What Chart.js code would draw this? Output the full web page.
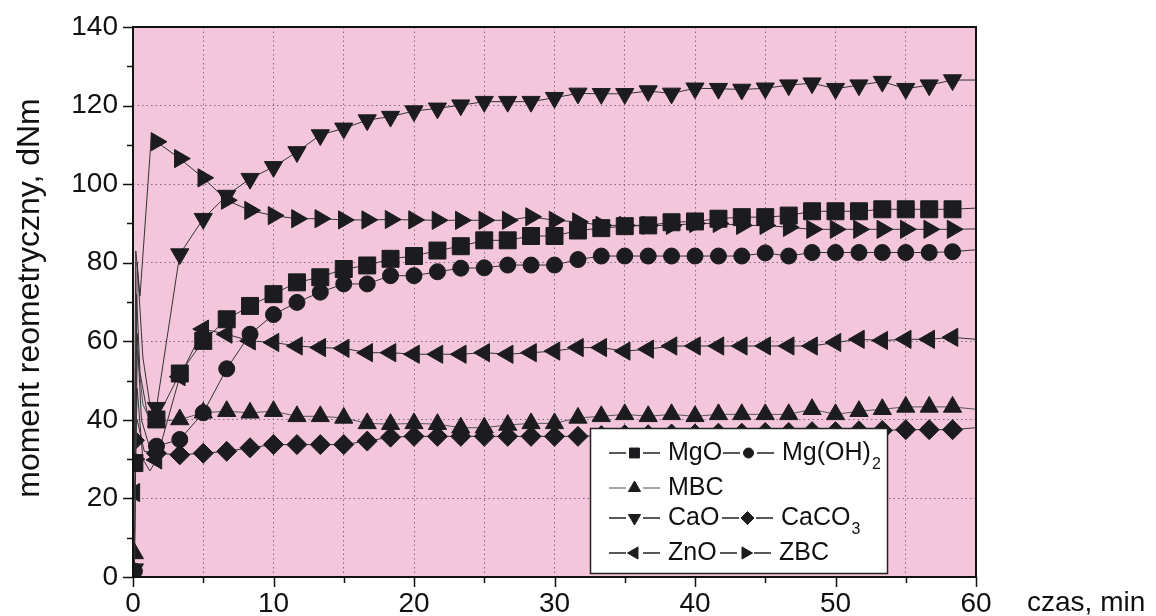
<!DOCTYPE html>
<html>
<head>
<meta charset="utf-8">
<script src="https://cdn.jsdelivr.net/npm/chart.js@4.4.1/dist/chart.umd.min.js"></script>
<style>
html, body { margin: 0; padding: 0; background: #fff; }
</style>
</head>
<body>
<canvas id="canvas" width="1156" height="616"></canvas>
<script>
const FONT = "'Liberation Sans', Arial, Helvetica, sans-serif";

// marker times, min (first one is the start of the run)
const markTimes = [0.1, 1.67, 3.33, 5, 6.67, 8.33, 10, 11.67, 13.33, 15, 16.67, 18.33,
	20, 21.67, 23.33, 25, 26.67, 28.33, 30, 31.67, 33.33, 35, 36.67, 38.33,
	40, 41.67, 43.33, 45, 46.67, 48.33, 50, 51.67, 53.33, 55, 56.67, 58.33];

const mgo = [29, 40.1, 51.8, 60.1, 65.6, 69.0, 72.0, 75.0, 76.3, 78.4, 79.3, 81.0,
	81.7, 83.1, 84.2, 85.7, 85.7, 86.8, 86.8, 88.2, 88.8, 89.3, 89.5, 90.3,
	90.5, 91.2, 91.6, 91.6, 92.0, 93.1, 93.1, 93.1, 93.6, 93.6, 93.6, 93.6];
const mgoh2 = [1.5, 33.3, 35.0, 41.8, 53.0, 61.8, 66.8, 69.9, 72.5, 74.6, 74.6, 76.7,
	76.7, 77.7, 78.6, 78.7, 79.4, 79.4, 79.4, 80.8, 81.7, 81.7, 81.7, 81.7,
	81.7, 81.7, 81.7, 82.5, 81.7, 82.6, 82.6, 82.6, 82.6, 82.6, 82.6, 82.8];
const mbc = [6, 39.5, 40.1, 41.8, 42.2, 41.8, 42.2, 40.9, 40.9, 40.5, 39.1, 38.9,
	39.1, 38.9, 38.0, 38.0, 38.7, 39.1, 39.1, 40.5, 40.9, 41.4, 40.9, 41.4,
	40.9, 41.4, 41.4, 41.4, 41.4, 42.7, 41.4, 42.2, 42.7, 43.3, 43.3, 43.3];
const cao = [2, 43.1, 82.2, 91.2, 97.1, 101.4, 104.4, 108.2, 112.5, 114.2, 116.3, 117.2,
	118.6, 119.3, 120.1, 121.0, 121.0, 121.0, 122.0, 123.1, 123.0, 123.0, 123.7, 123.1,
	124.4, 124.3, 124.1, 124.4, 125.2, 125.7, 124.3, 125.2, 126.1, 124.3, 125.2, 126.5];
const caco3 = [34.8, 31.5, 31.1, 31.5, 32.0, 32.9, 33.7, 33.7, 33.7, 33.7, 34.6, 35.6,
	35.8, 35.8, 35.8, 35.8, 35.8, 35.8, 35.8, 35.8, 36.0, 36.2, 36.2, 36.4,
	36.4, 36.6, 36.6, 36.8, 36.8, 37.0, 37.0, 37.2, 37.3, 37.5, 37.5, 37.5];
const zno = [21.5, 29.8, 51.0, 63.1, 61.8, 60.1, 59.7, 58.8, 58.4, 58.2, 57.1, 57.1,
	56.7, 56.7, 56.7, 57.1, 56.7, 57.1, 57.5, 58.4, 58.4, 57.5, 58.0, 58.8,
	58.8, 58.8, 58.8, 58.8, 58.8, 58.8, 59.7, 60.5, 60.2, 60.5, 60.5, 61.0];
const zbc = [30, 110.8, 106.5, 101.6, 95.9, 93.3, 92.0, 91.2, 91.2, 90.9, 90.9, 91.0,
	90.9, 90.8, 90.8, 90.8, 90.8, 91.7, 90.8, 90.4, 89.5, 89.5, 89.5, 89.5,
	90.0, 90.0, 89.5, 89.5, 89.0, 88.5, 88.5, 88.5, 88.5, 88.5, 88.5, 88.5];

// first minutes of the curves (no markers there)
const mgoEarlyT = [0.25, 0.5, 1.0],   mgoEarlyY = [72, 52, 42];
const mgoh2EarlyT = [0.3, 0.6, 1.1],  mgoh2EarlyY = [62, 40, 34];
const mbcEarlyT = [0.3, 0.7, 1.2],    mbcEarlyY = [58, 44, 40];
const caoEarlyT = [0.3, 0.7, 1.2],    caoEarlyY = [80, 56, 44];
const caco3EarlyT = [0.3, 0.8],       caco3EarlyY = [40, 32];
const znoEarlyT = [0.3, 0.7, 1.2],    znoEarlyY = [48, 30, 27];
const zbcEarlyT = [0.2, 0.5, 1.3],    zbcEarlyY = [83, 71.5, 112];

// value at 60 min
const endY = { mgo: 93.9, mgoh2: 83.3, mbc: 42.7, cao: 126.5, caco3: 38.0, zno: 60.5, zbc: 88.6 };

const MARK = '#1c1c1e';

function series(marks, earlyT, earlyY, last) {
	var pts = [{ x: markTimes[0], y: marks[0], m: true }];
	for (var i = 0; i < earlyT.length; i++) pts.push({ x: earlyT[i], y: earlyY[i], m: false });
	for (var k = 1; k < marks.length; k++) pts.push({ x: markTimes[k], y: marks[k], m: true });
	pts.push({ x: 60, y: last, m: false });
	return pts;
}

function ds(label, data, style, rot, r, lineColor) {
	return {
		label: label,
		data: data,
		borderColor: lineColor || '#333',
		borderWidth: 1,
		tension: 0,
		pointStyle: style,
		rotation: rot,
		pointRotation: rot,
		pointRadius: function (ctx) { return ctx.raw && ctx.raw.m ? r : 0; },
		pointBackgroundColor: MARK,
		pointBorderColor: MARK,
		pointBorderWidth: 1
	};
}

const datasets = [
	ds('MgO', series(mgo, mgoEarlyT, mgoEarlyY, endY.mgo), 'rect', 0, 12),
	ds('Mg(OH)2', series(mgoh2, mgoh2EarlyT, mgoh2EarlyY, endY.mgoh2), 'circle', 0, 8),
	ds('MBC', series(mbc, mbcEarlyT, mbcEarlyY, endY.mbc), 'triangle', 0, 10.5, '#555'),
	ds('CaO', series(cao, caoEarlyT, caoEarlyY, endY.cao), 'triangle', 180, 10.5),
	ds('CaCO3', series(caco3, caco3EarlyT, caco3EarlyY, endY.caco3), 'rectRot', 0, 10),
	ds('ZnO', series(zno, znoEarlyT, znoEarlyY, endY.zno), 'triangle', 270, 10.5),
	ds('ZBC', series(zbc, zbcEarlyT, zbcEarlyY, endY.zbc), 'triangle', 90, 10.5)
];

// legend rows: [label, subscript, style, rotation, x start, y]
const legendItems = [
	['MgO', '', 'rect', 0, 609, 453],
	['Mg(OH)', '2', 'circle', 0, 723, 453],
	['MBC', '', 'triangle', 0, 609, 488],
	['CaO', '', 'triangle', 180, 609, 518],
	['CaCO', '3', 'rectRot', 0, 722, 518],
	['ZnO', '', 'triangle', 270, 609, 553],
	['ZBC', '', 'triangle', 90, 720, 553]
];
const legendRadius = { rect: 7, circle: 5, triangle: 7, rectRot: 6.5 };

const frame = {
	id: 'frame',
	beforeDraw: function (chart) {
		var a = chart.chartArea, ctx = chart.ctx;
		ctx.save();
		ctx.fillStyle = '#f3c6dc';
		ctx.fillRect(a.left, a.top, a.right - a.left, a.bottom - a.top);
		ctx.restore();
	},
	afterDraw: function (chart) {
		var a = chart.chartArea, ctx = chart.ctx;
		var xs = chart.scales.x, ys = chart.scales.y;
		ctx.save();
		ctx.strokeStyle = '#111';
		ctx.lineWidth = 2;
		ctx.strokeRect(a.left, a.top, a.right - a.left, a.bottom - a.top);
		ctx.lineWidth = 1.5;
		ctx.beginPath();
		for (var v = 0; v <= 60; v += 5) {
			var px = Math.round(xs.getPixelForValue(v)) + 0.5;
			ctx.moveTo(px, a.bottom);
			ctx.lineTo(px, a.bottom + (v % 10 === 0 ? 10 : 6));
		}
		for (var w = 0; w <= 140; w += 10) {
			var py = Math.round(ys.getPixelForValue(w)) + 0.5;
			ctx.moveTo(a.left, py);
			ctx.lineTo(a.left - (w % 20 === 0 ? 10 : 6), py);
		}
		ctx.stroke();

		// axis titles
		ctx.fillStyle = '#111';
		ctx.font = '28px ' + FONT;
		ctx.textBaseline = 'middle';
		ctx.textAlign = 'left';
		ctx.fillText('czas, min', 1027, 603);
		ctx.translate(30, 298);
		ctx.rotate(-Math.PI / 2);
		ctx.textAlign = 'center';
		ctx.font = '32px ' + FONT;
		ctx.fillText('moment reometryczny, dNm', 0, 0);
		ctx.restore();

		// legend box
		ctx.save();
		ctx.fillStyle = '#fff';
		ctx.fillRect(590, 428, 297, 145);
		ctx.strokeStyle = '#222';
		ctx.lineWidth = 1.5;
		ctx.strokeRect(590.5, 428.5, 297, 145);
		legendItems.forEach(function (it) {
			var x0 = it[4], y = it[5];
			ctx.strokeStyle = it[0] === 'MBC' ? '#888' : '#222';
			ctx.lineWidth = 1.5;
			ctx.beginPath();
			ctx.moveTo(x0, y); ctx.lineTo(x0 + 17, y);
			ctx.moveTo(x0 + 34, y); ctx.lineTo(x0 + 51, y);
			ctx.stroke();
			ctx.fillStyle = MARK;
			ctx.strokeStyle = MARK;
			ctx.lineWidth = 1;
			Chart.helpers.drawPoint(ctx, {
				pointStyle: it[2], rotation: it[3], radius: legendRadius[it[2]], borderWidth: 1
			}, x0 + 25.5, y);
			ctx.fillStyle = '#111';
			ctx.font = '25px ' + FONT;
			ctx.textAlign = 'left';
			ctx.textBaseline = 'middle';
			var tx = x0 + 59;
			ctx.fillText(it[0], tx, y);
			if (it[1]) {
				var wdt = ctx.measureText(it[0]).width;
				ctx.font = '16px ' + FONT;
				ctx.fillText(it[1], tx + wdt + 1, y + 12);
			}
		});
		ctx.restore();
	}
};

new Chart(document.getElementById('canvas').getContext('2d'), {
	type: 'line',
	data: { datasets: datasets },
	options: {
		responsive: false,
		animation: false,
		events: [],
		layout: { padding: { left: 0, right: 180, top: 27, bottom: 0 } },
		plugins: { legend: { display: false }, tooltip: { enabled: false } },
		scales: {
			x: {
				type: 'linear', min: 0, max: 60,
				afterFit: function (s) { s.height = 39; s.paddingLeft = 0; s.paddingRight = 0; },
				ticks: {
					stepSize: 5, autoSkip: false, maxRotation: 0, padding: 10, color: '#111',
					font: { family: FONT, size: 28 },
					callback: function (v) { return v % 10 === 0 ? v : ''; }
				},
				grid: {
					drawTicks: false, lineWidth: 1,
					color: function (c) { return c.tick && c.tick.value > 0 && c.tick.value < 60 ? '#7d6a80' : 'rgba(0,0,0,0)'; }
				},
				border: { display: false, dash: [1.5, 3] }
			},
			y: {
				min: 0, max: 140,
				afterFit: function (s) { s.width = 133; s.paddingTop = 0; s.paddingBottom = 0; },
				ticks: {
					stepSize: 10, autoSkip: false, padding: 15, color: '#111',
					font: { family: FONT, size: 28 },
					callback: function (v) { return v % 20 === 0 ? v : ''; }
				},
				grid: {
					drawTicks: false, lineWidth: 1,
					color: function (c) { return c.tick && c.tick.value % 20 === 0 && c.tick.value > 0 && c.tick.value < 140 ? '#7d6a80' : 'rgba(0,0,0,0)'; }
				},
				border: { display: false, dash: [1.5, 3] }
			}
		}
	},
	plugins: [frame]
});
</script>
</body>
</html>
